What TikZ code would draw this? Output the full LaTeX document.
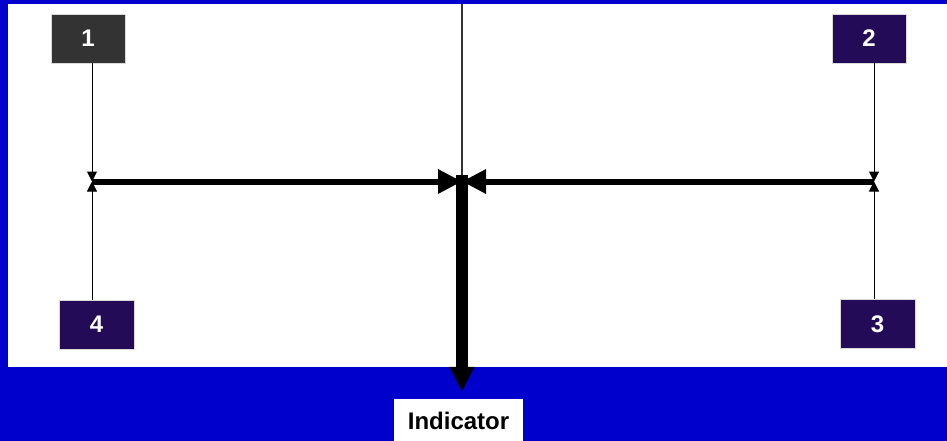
\documentclass[tikz,border=0pt]{standalone}
\usepackage{fontspec}
\setmainfont{Liberation Sans}
\usetikzlibrary{arrows.meta}
\definecolor{bgblue}{HTML}{0000CC}
\definecolor{boxgray}{HTML}{333333}
\definecolor{boxindigo}{HTML}{230B57}
\tikzset{
  numbox/.style={draw=white!70!gray, line width=0.6pt, minimum width=74pt, minimum height=49pt, inner sep=0pt,
    text=white, font=\fontsize{24}{28}\selectfont\bfseries},
  feed/.style={draw=black, line width=1pt, -{Triangle[width=10pt,length=10pt]}},
  bar/.style={draw=black, line width=6pt, -{Triangle[width=23pt,length=24pt]}},
  lbl/.style={fill=white, minimum width=129pt, minimum height=44pt, inner sep=0pt,
    font=\fontsize{24}{28}\selectfont\bfseries}
}
\begin{document}
\begin{tikzpicture}[x=1pt,y=-1pt]
\useasboundingbox (0,0) rectangle (947,441);
\clip (0,0) rectangle (947,441);
\fill[bgblue] (0,0) rectangle (947,441);
\fill[white] (8,4) rectangle (947,367);
% coordinates
\coordinate (jl) at (92,181.5);
\coordinate (jr) at (874,181.5);
\coordinate (jc) at (462,181.5);
\coordinate (ctop) at (462,4);
\coordinate (vtop) at (462,175);
% boxes
\node[numbox, fill=boxgray] (b1) at (88,38.5) {1};
\node[numbox, fill=boxindigo] (b2) at (869,38.5) {2};
\node[numbox, fill=boxindigo, minimum width=75pt] (b3) at (877.5,324) {3};
\node[numbox, fill=boxindigo, minimum width=75pt] (b4) at (96.5,324.5) {4};
\node[lbl] (ind) at (458.5,421) {Indicator};
% thin top line
\draw[draw=boxgray, line width=1.5pt] (ctop) -- (jc);
% thick bars
\draw[bar] (jl) -- (jc);
\draw[bar] (jr) -- (jc);
\draw[draw=black, line width=12pt, -{Triangle[width=23pt,length=25pt]}, shorten >=7pt] (vtop) -- (vtop |- ind.north);
% feeds
\draw[feed] (b1.south -| jl) -- (jl);
\draw[feed] (b4.north -| jl) -- (jl);
\draw[feed] (b2.south -| jr) -- (jr);
\draw[feed] (b3.north -| jr) -- (jr);
\end{tikzpicture}
\end{document}
